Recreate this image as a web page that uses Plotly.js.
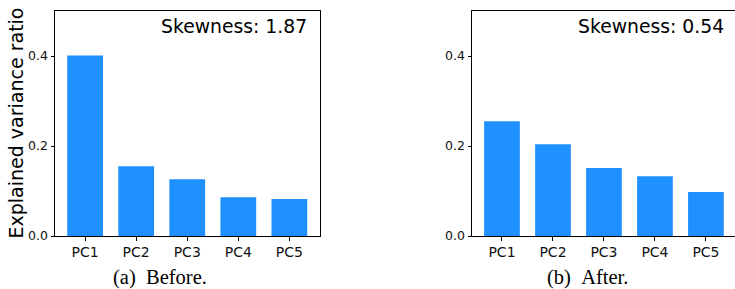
<!DOCTYPE html>
<html>
<head>
<meta charset="utf-8">
<script src="https://cdn.plot.ly/plotly-3.0.1.min.js"></script>
<style>html,body{margin:0;padding:0;background:#fff;}#chart{width:735px;height:289px;}</style>
</head>
<body>
<div id="chart"></div>
<script>
const categories = ['PC1', 'PC2', 'PC3', 'PC4', 'PC5'];
const beforeValues = [0.401, 0.155, 0.126, 0.086, 0.082];
const afterValues = [0.255, 0.204, 0.151, 0.133, 0.098];
const skewBefore = 'Skewness: 1.87';
const skewAfter = 'Skewness: 0.54';
const yTickVals = [0, 0.2, 0.4];
const yTickText = ['0.0', '0.2', '0.4'];
const yTitle = 'Explained variance ratio';
const captionBefore = '(a)\u00a0\u00a0Before.';
const captionAfter = '(b)\u00a0\u00a0After.';

const W = 735, H = 289;
const px = x => x / W;
const py = y => (H - y) / H;
const blue = '#1E90FF';
const tickFont = {family: 'DejaVu Sans', size: 14, color: '#111'};
const yTickFont = {family: 'DejaVu Sans', size: 12.5, color: '#111'};

const traces = [
  {type: 'bar', x: categories, y: beforeValues, xaxis: 'x', yaxis: 'y', width: 0.7,
   marker: {color: blue, line: {width: 0}}, hoverinfo: 'none'},
  {type: 'bar', x: categories, y: afterValues, xaxis: 'x2', yaxis: 'y2', width: 0.7,
   marker: {color: blue, line: {width: 0}}, hoverinfo: 'none'}
];

const xCommon = {type: 'category', showgrid: false, zeroline: false, showline: true, mirror: true,
  linecolor: '#000', linewidth: 1, ticks: 'outside', ticklen: 3.5, tickwidth: 1, tickcolor: '#000',
  tickfont: tickFont, fixedrange: true};
const yCommon = {range: [0, 0.5], showgrid: false, zeroline: false, showline: true,
  linecolor: '#000', linewidth: 1, ticks: 'outside', ticklen: 3.5, tickwidth: 1, tickcolor: '#000',
  tickvals: yTickVals, ticktext: yTickText, tickfont: yTickFont, fixedrange: true};

const layout = {
  width: W, height: H, margin: {l: 0, r: 0, t: 0, b: 0},
  paper_bgcolor: '#fff', plot_bgcolor: '#fff', showlegend: false, bargap: 0.3,
  xaxis: Object.assign({}, xCommon, {domain: [px(55), px(320)], range: [-0.59, 4.6], anchor: 'y'}),
  yaxis: Object.assign({}, yCommon, {domain: [py(236), py(11)], anchor: 'x', mirror: true}),
  xaxis2: Object.assign({}, xCommon, {domain: [px(472), 1], range: [-0.588, 4.57], anchor: 'y2'}),
  yaxis2: Object.assign({}, yCommon, {domain: [py(236), py(11)], anchor: 'x2', mirror: false}),
  annotations: [
    {text: skewBefore, xref: 'paper', yref: 'paper', x: px(309), y: py(26.5), xanchor: 'right', yanchor: 'middle',
     showarrow: false, font: {family: 'DejaVu Sans', size: 18.8, color: '#000'}},
    {text: skewAfter, xref: 'paper', yref: 'paper', x: px(726), y: py(26.5), xanchor: 'right', yanchor: 'middle',
     showarrow: false, font: {family: 'DejaVu Sans', size: 18.8, color: '#000'}},
    {text: yTitle, xref: 'paper', yref: 'paper', x: px(15), y: py(123.5), xanchor: 'center', yanchor: 'middle',
     textangle: -90, showarrow: false, font: {family: 'DejaVu Sans', size: 19, color: '#000'}},
    {text: captionBefore, xref: 'paper', yref: 'paper', x: px(160), y: py(277), xanchor: 'center', yanchor: 'middle',
     showarrow: false, borderpad: 0, font: {family: 'Liberation Serif', size: 20.5, color: '#000'}},
    {text: captionAfter, xref: 'paper', yref: 'paper', x: px(587), y: py(277), xanchor: 'center', yanchor: 'middle',
     showarrow: false, borderpad: 0, font: {family: 'Liberation Serif', size: 20.5, color: '#000'}}
  ]
};

Plotly.newPlot('chart', traces, layout, {staticPlot: true, displayModeBar: false});
</script>
</body>
</html>
